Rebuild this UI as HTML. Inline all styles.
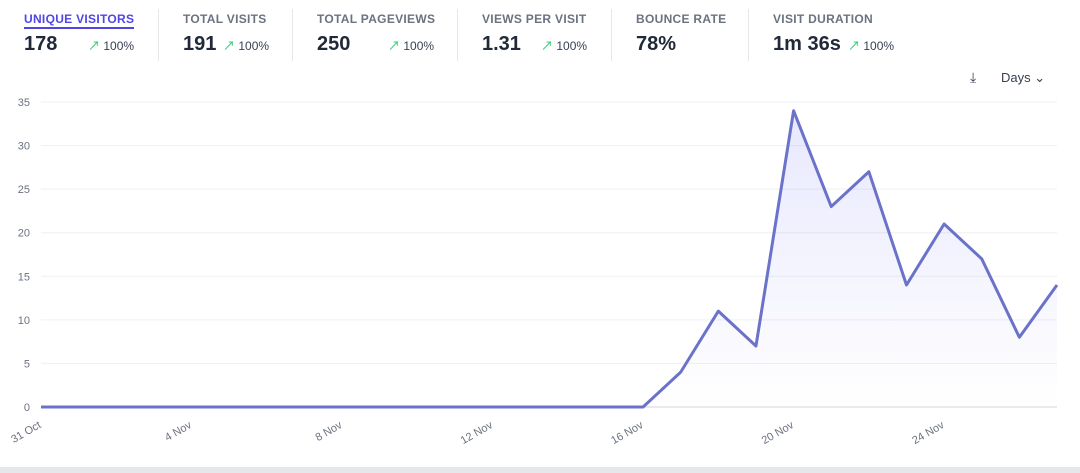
<!DOCTYPE html>
<html><head><meta charset="utf-8"><style>
body{margin:0;width:1080px;height:473px;background:#fff;font-family:"Liberation Sans","Noto Sans CJK SC",sans-serif;overflow:hidden;position:relative}
.stat{position:absolute;top:10px;height:52px}
.lbl{font-size:12px;font-weight:bold;color:#6b7280;letter-spacing:.3px}
.lbl.act{color:#4f46e5;border-bottom:2px solid #4f46e5;padding-bottom:1px}
.val{position:absolute;top:23px;font-size:20px;font-weight:bold;color:#1f2937;white-space:nowrap}
.chg{position:absolute;top:27px;font-size:12px;color:#374151;white-space:nowrap}
.chg b{color:#22c55e;font-weight:normal}
.sep{position:absolute;top:9px;width:1px;height:52px;background:#e5e7eb}
</style></head><body>
<div class="stat" style="left:24px"><span class="lbl act">UNIQUE VISITORS</span><div class="val" style="left:0">178</div><div class="chg" style="left:64px"><b>↗</b> 100%</div></div>
<div class="sep" style="left:158px"></div>
<div class="stat" style="left:183px"><span class="lbl">TOTAL VISITS</span><div class="val" style="left:0">191</div><div class="chg" style="left:40px"><b>↗</b> 100%</div></div>
<div class="sep" style="left:292px"></div>
<div class="stat" style="left:317px"><span class="lbl">TOTAL PAGEVIEWS</span><div class="val" style="left:0">250</div><div class="chg" style="left:71px"><b>↗</b> 100%</div></div>
<div class="sep" style="left:457px"></div>
<div class="stat" style="left:482px"><span class="lbl">VIEWS PER VISIT</span><div class="val" style="left:0">1.31</div><div class="chg" style="left:59px"><b>↗</b> 100%</div></div>
<div class="sep" style="left:611px"></div>
<div class="stat" style="left:636px"><span class="lbl">BOUNCE RATE</span><div class="val" style="left:0">78%</div></div>
<div class="sep" style="left:748px"></div>
<div class="stat" style="left:773px"><span class="lbl">VISIT DURATION</span><div class="val" style="left:0">1m 36s</div><div class="chg" style="left:75px"><b>↗</b> 100%</div></div>
<div style="position:absolute;left:970px;top:69px;font-size:14px;color:#374151">⤓</div>
<div style="position:absolute;left:1001px;top:70px;font-size:13px;color:#374151">Days ⌄</div>
<svg id="chart" width="1080" height="473" style="position:absolute;left:0;top:0"></svg>
<div style="position:absolute;left:0;top:467px;width:1080px;height:6px;background:#e5e7eb"></div>
<script>
const dates=["31 Oct","1 Nov","2 Nov","3 Nov","4 Nov","5 Nov","6 Nov","7 Nov","8 Nov","9 Nov","10 Nov","11 Nov","12 Nov","13 Nov","14 Nov","15 Nov","16 Nov","17 Nov","18 Nov","19 Nov","20 Nov","21 Nov","22 Nov","23 Nov","24 Nov","25 Nov","26 Nov","27 Nov"];
const visitors=[0,0,0,0,0,0,0,0,0,0,0,0,0,0,0,0,0,4,11,7,34,23,27,14,21,17,8,14];
const yTicks=[0,5,10,15,20,25,30,35];
const xTickEvery=4;
const NS="http://www.w3.org/2000/svg";
const svg=document.getElementById('chart');
const x0=41,x1=1057,y0=407,y1=102,ymax=35;
const xs=i=>x0+(x1-x0)*i/(dates.length-1);
const ys=v=>y0-(y0-y1)*v/ymax;
function mk(t,a){const e=document.createElementNS(NS,t);for(const k in a)e.setAttribute(k,a[k]);svg.appendChild(e);return e;}
yTicks.forEach(t=>{
 const g=mk('line',{x1:x0,x2:x1,y1:ys(t),y2:ys(t),stroke:t===0?'#d1d5db':'#eef0f3','stroke-width':1});
 
 
 const l=mk('text',{x:30,y:ys(t)+4,'text-anchor':'end','font-size':11,fill:'#6b7280','font-family':'Liberation Sans'});
 l.textContent=t;
 
 
});
dates.forEach((d,i)=>{
 if(i%xTickEvery)return;
 const l=mk('text',{x:xs(i),y:424,'text-anchor':'end','font-size':11,fill:'#6b7280','font-family':'Liberation Sans',transform:`rotate(-30 ${xs(i)+6} 424)`});
 l.textContent=d;
 
 
});
const defs=mk('defs',{});
defs.innerHTML='<linearGradient id="gr" x1="0" y1="0" x2="0" y2="1"><stop offset="0" stop-color="#6366f1" stop-opacity="0.15"/><stop offset="1" stop-color="#6366f1" stop-opacity="0"/></linearGradient>';
let p=visitors.map((v,i)=>(i?'L':'M')+xs(i)+','+ys(v)).join('');
const area=mk('path',{d:p+`L${xs(visitors.length-1)},${y0}L${x0},${y0}Z`,fill:'url(#gr)'});


const line=mk('path',{d:p,fill:'none',stroke:'#6b72c9','stroke-width':3,'stroke-linejoin':'round'});


</script>
</body></html>
